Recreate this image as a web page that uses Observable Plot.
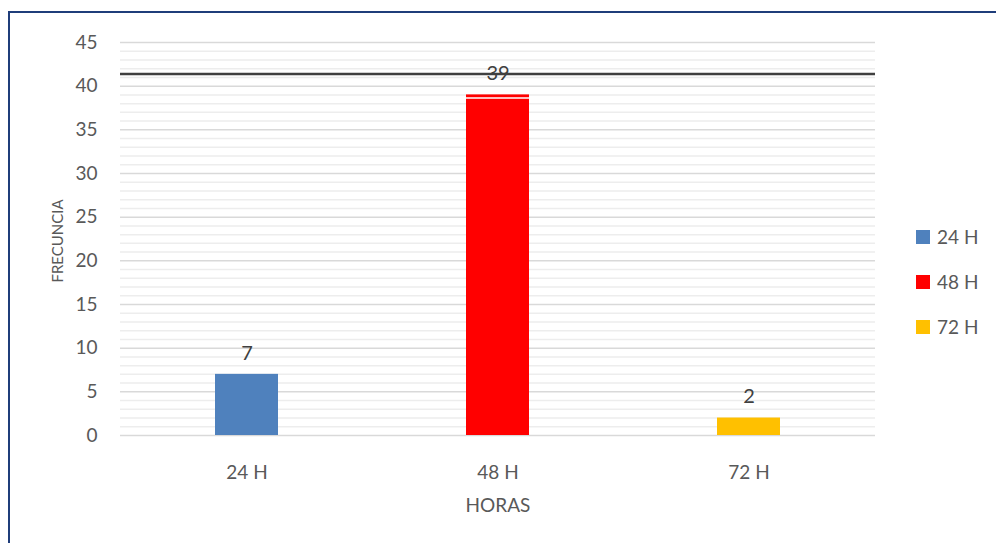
<!DOCTYPE html>
<html>
<head>
<meta charset="utf-8">
<script src="https://cdn.jsdelivr.net/npm/d3@7"></script>
<script src="https://cdn.jsdelivr.net/npm/@observablehq/plot@0.6"></script>
<style>
  html, body { margin: 0; padding: 0; background: #fff; overflow: hidden; }
  #wrap { position: relative; width: 996px; height: 543px; font-family: Lato, "Noto Sans", sans-serif; }
  #frame { position: absolute; left: 8px; top: 11px; width: 1000px; height: 600px; border: 2px solid #1f3d7a; box-sizing: border-box; pointer-events: none; }
  #legend { position: absolute; left: 916px; top: 214px; color: #595959; font-size: 19px; }
  .item { display: flex; align-items: center; height: 45px; }
  .sw { width: 14px; height: 14px; margin-right: 7px; }
</style>
</head>
<body>
<div id="wrap">
  <div id="chart"></div>
  <div id="frame"></div>
  <div id="legend"></div>
</div>
<script>
const categories = ["24 H", "48 H", "72 H"];
const values = [7, 39, 2];
const colors = ["#4f81bd", "#ff0000", "#ffc000"];
const yTicks = [0, 5, 10, 15, 20, 25, 30, 35, 40, 45];
const minorTicks = d3.range(0, 46, 1).filter(v => v % 5 !== 0);
const referenceLine = [41.4];
const barHighlight = [{ cat: "48 H", v: 38.65 }];

const data = categories.map((c, i) => ({ cat: c, v: values[i], color: colors[i] }));

const chart = Plot.plot({
  width: 996,
  height: 543,
  marginLeft: 120,
  marginRight: 121,
  marginTop: 42,
  marginBottom: 108,
  style: { fontFamily: "Lato, 'Noto Sans', sans-serif", background: "transparent", overflow: "visible" },
  x: { domain: categories, paddingInner: 0.75, paddingOuter: 0.375, label: null },
  y: { domain: [0, 45], label: null },
  marks: [
    Plot.ruleY(minorTicks, { stroke: "#ededed", strokeWidth: 1.5 }),
    Plot.ruleY(yTicks, { stroke: "#d9d9d9", strokeWidth: 1.5 }),
    Plot.barY(data, { x: "cat", y: "v", fill: "color" }),
    Plot.tickY(barHighlight, { x: "cat", y: "v", stroke: "white", strokeWidth: 1.5 }),
    Plot.ruleY(referenceLine, { stroke: "#404040", strokeWidth: 2.5 }),
    Plot.text(data, { x: "cat", y: "v", text: d => String(d.v), dy: -21, fontSize: 20, fill: "#404040" }),
    Plot.axisY({ ticks: yTicks, tickSize: 0, tickPadding: 23, fontSize: 19, color: "#595959", label: null }),
    Plot.axisX({ tickSize: 0, tickPadding: 30, fontSize: 19, color: "#595959", label: null }),
    Plot.text(["HORAS"], { frameAnchor: "bottom", dy: 76, fontSize: 19, fill: "#595959" }),
    Plot.text(["FRECUNCIA"], { frameAnchor: "left", textAnchor: "middle", dx: -62, dy: 2, rotate: -90, fontSize: 15, fill: "#595959" })
  ]
});
document.getElementById("chart").appendChild(chart);

const legend = document.getElementById("legend");
categories.forEach((c, i) => {
  const item = document.createElement("div");
  item.className = "item";
  item.innerHTML = `<div class="sw" style="background:${colors[i]}"></div><span>${c}</span>`;
  legend.appendChild(item);
});
</script>
</body>
</html>
